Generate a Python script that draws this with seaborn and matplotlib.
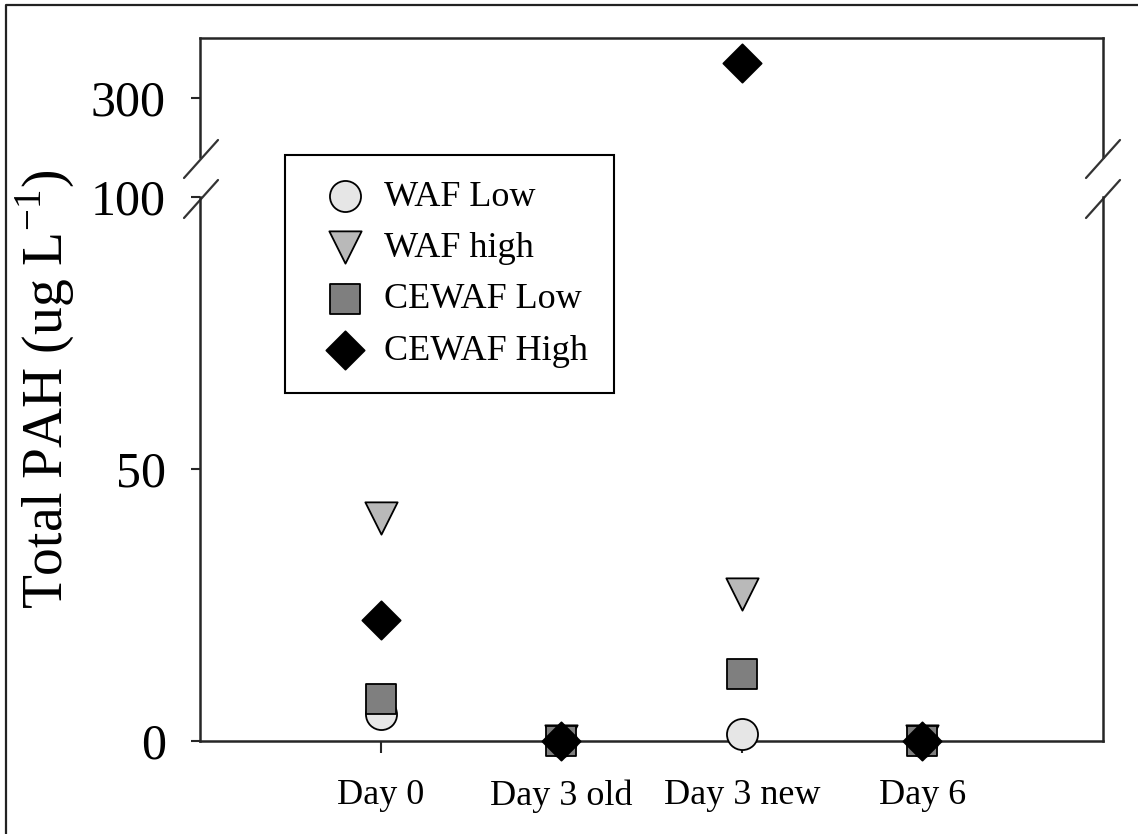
import matplotlib
matplotlib.use("Agg")
import matplotlib.pyplot as plt
from matplotlib.lines import Line2D
import seaborn as sns
import pandas as pd

# ---- data ----
days = ["Day 0", "Day 3 old", "Day 3 new", "Day 6"]
series = ["WAF Low", "WAF high", "CEWAF Low", "CEWAF High"]
waf_low = [5.0, 0.0, 1.3, 0.0]
waf_high = [41.0, 0.0, 27.0, 0.0]
cewaf_low = [7.8, 0.0, 12.3, 0.0]
cewaf_high = [22.2, 0.0, 329.0, 0.0]
yticks_low = [0, 50, 100]
yticks_high = [300]

values = [waf_low, waf_high, cewaf_low, cewaf_high]
markers = ["o", "v", "s", "D"]
fills = ["#e6e6e6", "#b9b9b9", "#7f7f7f", "#000000"]
sizes = [500, 540, 470, 380]

rows = []
for name, vals in zip(series, values):
    for i, (d, v) in enumerate(zip(days, vals)):
        rows.append({"series": name, "pos": i, "day": d, "value": v})
df = pd.DataFrame(rows)

sns.set_style("ticks")
plt.rcParams["font.family"] = ["Liberation Serif", "DejaVu Serif"]
plt.rcParams["mathtext.fontset"] = "custom"
plt.rcParams["mathtext.rm"] = "Liberation Serif"
plt.rcParams["text.color"] = "black"

W, H = 1138, 834
fig = plt.figure(figsize=(W / 100, H / 100), dpi=100)

axu = fig.add_axes([200 / W, 1 - 157 / H, 903 / W, (157 - 38) / H])
ax = fig.add_axes([200 / W, 1 - 741 / H, 903 / W, (741 - 197) / H])
axu.patch.set_visible(False)
ax.patch.set_visible(False)
ax.set_zorder(2)

low = df[df["value"] <= 100]
high = df[df["value"] > 100]

for name, m, c, s in zip(series, markers, fills, sizes):
    d = low[low["series"] == name]
    sns.scatterplot(data=d, x="pos", y="value", marker=m, color=c, s=s,
                    edgecolor="black", linewidth=1.3, ax=ax, label=name,
                    clip_on=False, zorder=3)
    d2 = high[high["series"] == name]
    if len(d2):
        sns.scatterplot(data=d2, x="pos", y="value", marker=m, color=c, s=s,
                        edgecolor="black", linewidth=1.3, ax=axu,
                        clip_on=False, zorder=3, legend=False)

spine_c = "#262626"
for a in (ax, axu):
    a.set_xlim(-1, 4)
    a.set_xlabel("")
    a.set_ylabel("")
    for sp in a.spines.values():
        sp.set_linewidth(1.8)
        sp.set_color(spine_c)

ax.set_ylim(0, 100)
ax.spines["top"].set_visible(False)
ax.set_yticks(yticks_low)
ax.set_yticklabels([str(t) for t in yticks_low])
ax.set_xticks(range(len(days)))
ax.set_xticklabels(days)
ax.tick_params(axis="y", length=6.5, width=1.5, pad=18, labelsize=36,
               colors=spine_c, labelcolor="black")
ax.tick_params(axis="x", length=8.6, width=1.5, pad=19, labelsize=26,
               colors=spine_c, labelcolor="black")

axu.set_ylim(250, 350)
axu.spines["bottom"].set_visible(False)
axu.set_yticks(yticks_high)
axu.set_yticklabels([str(t) for t in yticks_high])
axu.set_xticks([])
axu.tick_params(axis="y", length=6.5, width=1.5, pad=18, labelsize=36,
                colors=spine_c, labelcolor="black")

# break marks
def fl(x0, y0, x1, y1):
    fig.add_artist(Line2D([x0 / W, x1 / W], [1 - y0 / H, 1 - y1 / H],
                          color="#333333", lw=1.6, transform=fig.transFigure))

for xc in (200, 1102):
    fl(xc - 16, 178, xc + 18, 140)
    fl(xc - 16, 218, xc + 18, 180)

# y label
fig.text(45 / W, 1 - 389 / H, r"Total PAH (ug L$^{-1}$)", rotation=90,
         ha="center", va="center", fontsize=40, color="black")

# legend
leg = ax.legend(loc="upper left", bbox_to_anchor=(285 / W, 1 - 155 / H),
                bbox_transform=fig.transFigure, borderaxespad=0,
                fontsize=26, frameon=True, fancybox=False, framealpha=1,
                edgecolor="black", borderpad=0.7, handlelength=1.9,
                handletextpad=0.15, labelspacing=0.5, labelcolor="black")
leg.get_frame().set_linewidth(1.5)

# outer border (top and left)
fig.add_artist(Line2D([6 / W, 6 / W, 1.0], [0.0, 1 - 5 / H, 1 - 5 / H],
                      color="#222222", lw=1.6, transform=fig.transFigure))

fig.savefig("out.png", dpi=100)
